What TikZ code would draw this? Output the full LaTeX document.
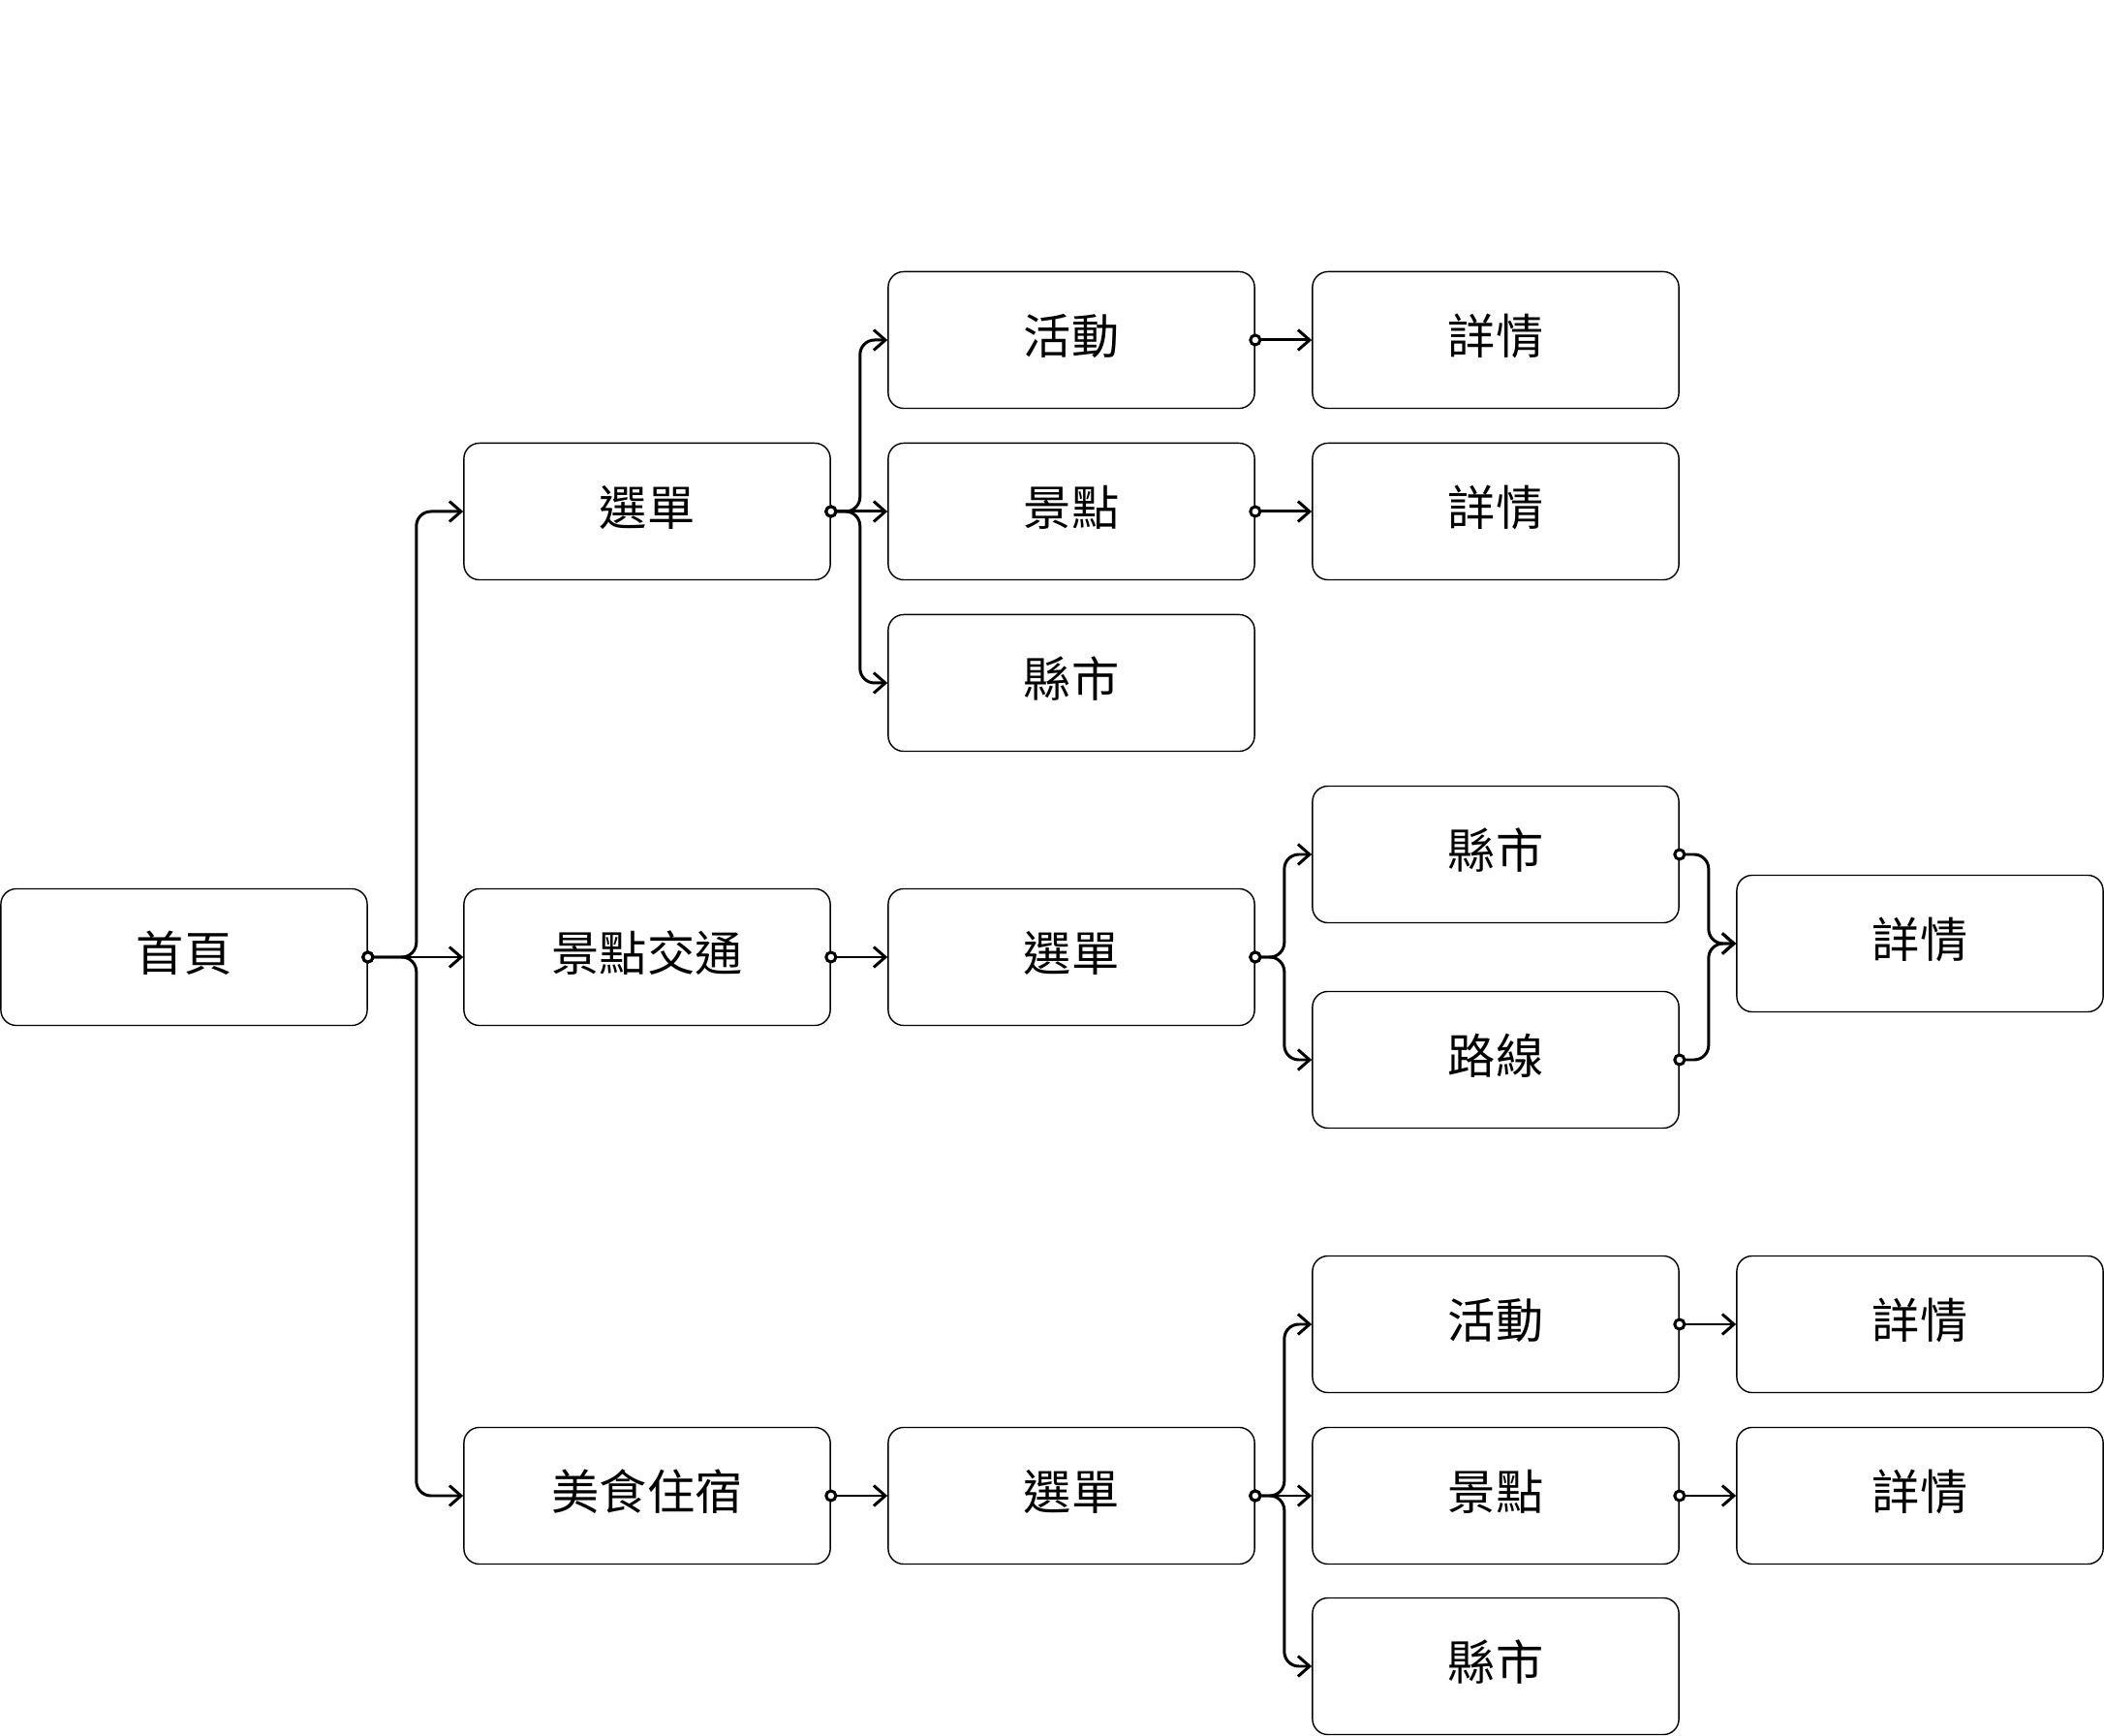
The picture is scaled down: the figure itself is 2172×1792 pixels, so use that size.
\documentclass[tikz,border=0pt]{standalone}
\usepackage{fontspec}
\setmainfont{Noto Sans CJK TC}
\usetikzlibrary{arrows.meta}
\begin{document}
\begin{tikzpicture}[x=0.01cm, y=-0.01cm,
	link/.style={line width=0.85pt, rounded corners=0.15cm, shorten <=-0.65mm,
		{Circle[fill=white, length=1.3mm]}-{Straight Barb[length=1.2mm, width=2.1mm]}}]
	\useasboundingbox (0,0) rectangle (2172,1792);
	\begin{scope} [every node/.style={draw, rounded corners=0.16cm, line width=0.4pt, minimum width=3.78cm, minimum height=1.41cm, inner sep=0pt, text height=11pt, text depth=2.6pt, font=\fontsize{14}{16}\selectfont}]
		\node (home) at (190,988){首頁};
		\node (menuA) at (668,528){選單};
		\node (traffic) at (668,988){景點交通};
		\node (food) at (668,1544){美食住宿};
		\node (actA) at (1106,351){活動};
		\node (spotA) at (1106,528){景點};
		\node (cityA) at (1106,705){縣市};
		\node (menuB) at (1106,988){選單};
		\node (menuC) at (1106,1544){選單};
		\node (detA1) at (1544,351){詳情};
		\node (detA2) at (1544,528){詳情};
		\node (cityB) at (1544,882){縣市};
		\node (route) at (1544,1094){路線};
		\node (actC) at (1544,1367){活動};
		\node (spotC) at (1544,1544){景點};
		\node (cityC) at (1544,1720){縣市};
		\node (detB) at (1982,974){詳情};
		\node (detC1) at (1982,1367){詳情};
		\node (detC2) at (1982,1544){詳情};
	\end{scope}
	% home
	\draw[link] (home.east) -- ++(50,0) |- (menuA.west);
	\draw[link] (home.east) -- (traffic.west);
	\draw[link] (home.east) -- ++(50,0) |- (food.west);
	% menu
	\draw[link] (menuA.east) -- ++(30,0) |- (actA.west);
	\draw[link] (menuA.east) -- (spotA.west);
	\draw[link] (menuA.east) -- ++(30,0) |- (cityA.west);
	\draw[link] (actA.east) -- (detA1.west);
	\draw[link] (spotA.east) -- (detA2.west);
	% traffic
	\draw[link] (traffic.east) -- (menuB.west);
	\draw[link] (menuB.east) -- ++(30,0) |- (cityB.west);
	\draw[link] (menuB.east) -- ++(30,0) |- (route.west);
	\draw[link] (cityB.east) -- ++(30,0) |- (detB.west);
	\draw[link] (route.east) -- ++(30,0) |- (detB.west);
	% food
	\draw[link] (food.east) -- (menuC.west);
	\draw[link] (menuC.east) -- ++(30,0) |- (actC.west);
	\draw[link] (menuC.east) -- (spotC.west);
	\draw[link] (menuC.east) -- ++(30,0) |- (cityC.west);
	\draw[link] (actC.east) -- (detC1.west);
	\draw[link] (spotC.east) -- (detC2.west);
\end{tikzpicture}
\end{document}
